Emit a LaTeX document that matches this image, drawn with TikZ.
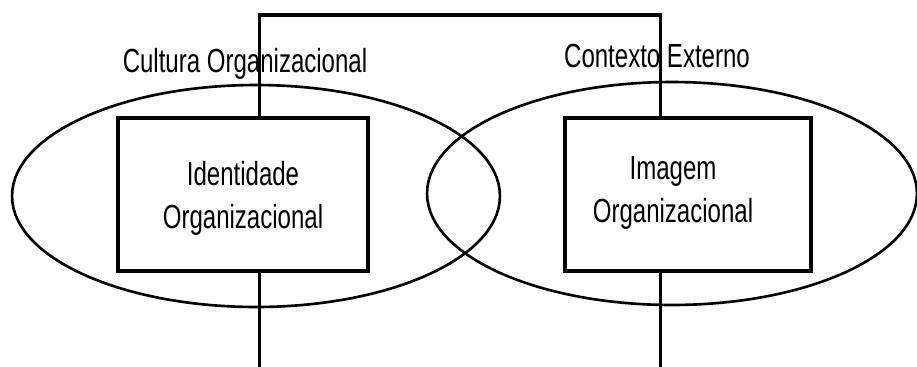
\documentclass[tikz,border=0pt]{standalone}
\usepackage{graphicx}
\usepackage{fontspec}
\setmainfont{Liberation Sans}
\usetikzlibrary{shapes.geometric}
\newcommand{\estreito}[1]{\scalebox{0.72}[1]{#1}}

\begin{document}
\begin{tikzpicture}[x=0.02cm, y=-0.02cm,
        oval/.style={draw, ellipse, line width=1.5pt, inner sep=0pt},
        caixa/.style={draw, rectangle, line width=2pt, fill=white, inner sep=0pt, minimum height=3.06cm},
        rotulo/.style={font=\fontsize{19}{24.5}\selectfont, align=center, inner sep=0pt}]
        \useasboundingbox (0,0) rectangle (917,366);
        % moldura central
        \draw [line width=2pt] (259.5,372) -- (259.5,15) -- (660.5,15) -- (660.5,372);
        \node [oval, minimum width=9.76cm, minimum height=4.44cm] (cultura) at (256,196) {};
        \node [oval, minimum width=9.8cm, minimum height=4.46cm] (contexto) at (672,193.5) {};
        \node [caixa, minimum width=5cm] (identidade) at (243,194.5) {};
        \node [caixa, minimum width=4.92cm] (imagem) at (688,194.5) {};
        \node [rotulo] (idtxt) at (243,198) {\estreito{Identidade}\\\estreito{Organizacional}};
        \node [rotulo] (imgtxt) at (673,193) {\estreito{Imagem}\\\estreito{Organizacional}};
        \node [rotulo, anchor=base] (cultxt) at (245,72) {\estreito{Cultura Organizacional}};
        \node [rotulo, anchor=base] (contxt) at (657,67) {\estreito{Contexto Externo}};
    \end{tikzpicture}
\end{document}
